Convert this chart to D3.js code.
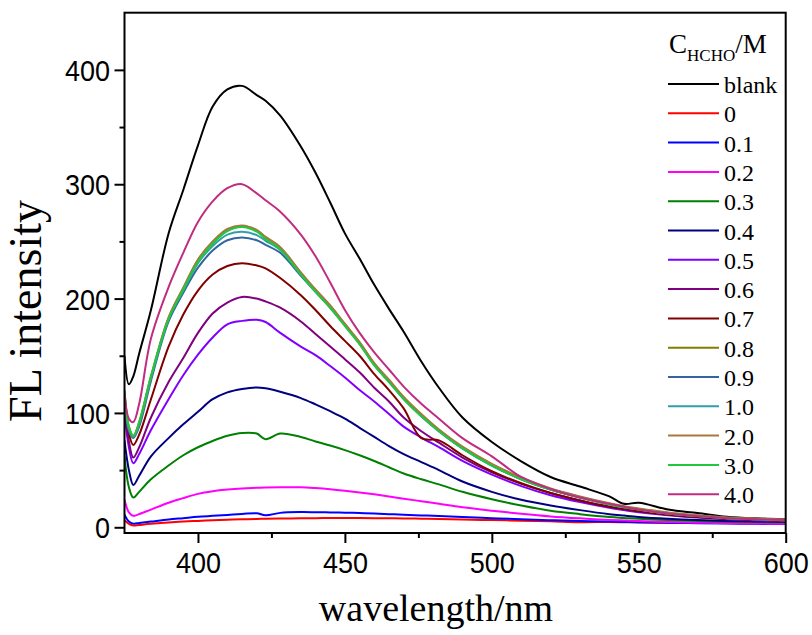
<!DOCTYPE html>
<html>
<head>
<meta charset="utf-8">
<script src="https://cdn.jsdelivr.net/npm/d3@7"></script>
<style>
  html, body { margin: 0; padding: 0; background: #fff; }
  svg { display: block; }
</style>
</head>
<body>
<svg id="chart" width="812" height="635"></svg>
<script>
// wavelength grid (nm), shared by every spectrum
const wavelengths = [375, 376.5, 378, 380, 384, 390, 395, 400, 405, 410, 415, 420, 423, 428, 435,
  440, 445, 450, 455, 460, 465, 470, 476, 482, 490, 500, 510, 520, 530, 540, 545, 550, 560, 570, 580, 590, 600]

// FL intensity, one array per HCHO concentration
const blank = [150, 125, 132, 152, 190, 257, 295, 334, 368, 383, 386, 378, 373, 360, 333,
  310, 284, 257, 235, 212, 191, 171, 145, 122, 96, 74.6, 57.7, 44, 35.6, 27, 20.5, 21.5, 15.5, 12.5, 9.3, 7.8, 7]
const c0 = [6, 3, 1.5, 2, 3, 4.2, 5, 5.6, 6.2, 6.6, 7, 7.3, 7.4, 7.6, 7.9,
  8, 8.1, 8.2, 8.1, 8, 7.9, 7.7, 7.5, 7.2, 6.8, 6.3, 5.8, 5.3, 4.5, 4.6, 4.4, 4.2, 4, 3.8, 3.7, 3.6, 3.5]
const c01 = [11, 5, 3.2, 3.8, 5, 6.8, 8, 9.2, 10, 10.8, 11.6, 12.3, 10.5, 12.6, 13.3,
  13.2, 13, 12.8, 12.4, 12, 11.5, 11, 10.4, 9.8, 9, 8, 7, 6.2, 5.5, 5, 4.7, 4.5, 4, 3.6, 3.3, 3, 2.8]
const c02 = [24, 13, 10, 11.5, 15.5, 21.5, 25.5, 29.2, 31.5, 33, 34, 34.5, 34.8, 35, 35,
  34.3, 33.3, 32, 30.5, 28.8, 27, 25, 22.8, 20.5, 17.5, 14.5, 11.8, 9.5, 7.8, 6.4, 5.9, 5.4, 4.6, 4, 3.6, 3.3, 3]
const c03 = [62, 35, 26, 31, 42, 54, 63, 70, 75.5, 80, 82.5, 82, 77, 82, 79,
  75, 71.5, 67.5, 63, 58, 52.5, 47, 42, 37.5, 31, 24.5, 19, 14.5, 11.5, 9, 8.2, 7.4, 6.3, 5.5, 5, 4.6, 4.3]
const c04 = [76, 50, 37, 45, 62, 78, 90, 101, 112, 118, 121, 122.3, 121.5, 118.5, 113,
  107.5, 101.5, 95, 87, 79, 71, 64, 57, 50, 40, 31, 24, 19, 15, 11.5, 10.2, 9, 7.4, 6.3, 5.6, 5.1, 4.8]
const c05 = [100, 70, 56, 64, 85, 112, 133, 151, 166, 177.5, 180.5, 181.5, 179.5, 170, 158,
  150.5, 141, 131, 120, 110, 99, 88, 78.5, 70, 58, 46, 36, 28, 22, 17, 15, 13.2, 10.5, 8.5, 7, 6, 5.4]
const c06 = [110, 75, 61, 70, 96, 127, 148, 170, 187, 196.5, 201.4, 200, 197.5, 192, 180,
  169, 158, 147, 135.5, 122, 110, 96, 84, 74, 61, 48, 38, 30, 23.5, 18, 16, 14, 11, 9, 7.5, 6.5, 5.8]
const c07 = [115, 82, 72, 81, 112, 158, 186, 207, 221, 228.5, 231, 229, 226.5, 218, 203,
  190, 176, 163, 150, 134, 120, 104, 78, 76, 63, 49, 38.5, 30, 23.5, 18, 16, 14, 11, 9, 7.5, 6.5, 5.8]
const c08 = [118, 87, 79, 91, 131, 183, 209, 234, 249.5, 260, 263.5, 259.5, 253.5, 244.5, 222.5,
  207.5, 193.5, 177.5, 161.5, 143, 128.5, 113.5, 98.5, 85, 70, 55, 43, 33.5, 26.5, 20.5, 18, 16, 12.5, 10.2, 8.4, 7.4, 6.6]
const c09 = [112, 84, 78, 88, 128, 180, 205, 227, 242, 251, 253.5, 251, 247, 240, 220,
  206, 192, 177, 161, 142, 127.5, 112.5, 97, 84, 69, 54, 42, 33, 26, 20, 17.5, 15.5, 12, 9.8, 8, 7, 6.2]
const c10 = [115, 86, 79, 90, 130, 182, 207, 231, 246, 256, 258.5, 255.5, 250.5, 242.5, 221,
  206.5, 192.5, 176.5, 160.5, 142, 127.5, 112.5, 97.5, 84, 69, 54, 42, 33, 26, 20, 17.5, 15.5, 12, 9.8, 8, 7, 6.2]
const c20 = [119, 88, 80, 92, 132, 183.5, 209.5, 234, 250, 261, 264, 260, 254, 245, 223,
  208, 194, 178, 162, 143.5, 129, 114, 99, 85.5, 70.5, 55.5, 43.5, 34, 27, 21, 18.5, 16.5, 13, 10.5, 8.6, 7.6, 6.8]
const c30 = [120, 88, 80, 92, 132, 182, 208, 232, 248, 259, 262.5, 258.5, 252, 243, 221,
  206, 192, 176, 160, 141.5, 127, 112, 97, 84, 69, 54, 42, 33, 26, 20, 17.5, 15.5, 12, 9.8, 8, 7, 6.2]
const c40 = [118, 95, 92, 108, 165, 210, 240, 267, 285, 296.5, 300, 292, 286, 276, 256,
  237, 214, 190, 170, 153, 138, 123, 108, 95, 78, 62, 44, 33.5, 26, 20.5, 18, 15.5, 12, 9.8, 8, 7, 6.4]

const seriesNames = ['blank', '0', '0.1', '0.2', '0.3', '0.4', '0.5', '0.6', '0.7', '0.8', '0.9', '1.0', '2.0', '3.0', '4.0']
const seriesValues = [blank, c0, c01, c02, c03, c04, c05, c06, c07, c08, c09, c10, c20, c30, c40]
const seriesColors = ['#000000', '#ff0000', '#0000ff', '#ff00ff', '#008000', '#000080', '#8000ff', '#800080',
  '#800000', '#808000', '#3366a0', '#2fa0a8', '#a8783f', '#20c840', '#c02c80']

const xTicks = [400, 450, 500, 550, 600]
const xMinor = [425, 475, 525, 575]
const yTicks = [0, 100, 200, 300, 400]
const yMinor = [50, 150, 250, 350]

const svg = d3.select('#chart')
const plotLeft = 124.5, plotRight = 785.7, plotTop = 12.7, plotBottom = 533
const serif = "'Liberation Serif', 'Times New Roman', serif"
const sans = "'Liberation Sans', Arial, sans-serif"

const x = d3.scaleLinear().domain([375, 600]).range([plotLeft, plotRight])
const y = d3.scaleLinear().domain([-5, 450]).range([plotBottom, plotTop])

// curves, clipped to the frame
svg.append('defs').append('clipPath').attr('id', 'plot-clip')
  .append('rect')
  .attr('x', plotLeft).attr('y', plotTop)
  .attr('width', plotRight - plotLeft).attr('height', plotBottom - plotTop)

const line = d3.line()
  .x((d, i) => x(wavelengths[i]))
  .y(d => y(d))
  .curve(d3.curveCatmullRom.alpha(0.5))

svg.append('g').attr('clip-path', 'url(#plot-clip)')
  .selectAll('path')
  .data(seriesValues)
  .join('path')
  .attr('d', d => line(d))
  .attr('fill', 'none')
  .attr('stroke', (d, i) => seriesColors[i])
  .attr('stroke-width', 2)
  .attr('stroke-linejoin', 'round')

// axes
const xAxis = svg.append('g').attr('transform', `translate(0,${plotBottom})`)
  .call(d3.axisBottom(x).tickValues(xTicks).tickSize(10).tickPadding(9).tickFormat(d3.format('d')))
const xAxisMinor = svg.append('g').attr('transform', `translate(0,${plotBottom})`)
  .call(d3.axisBottom(x).tickValues(xMinor).tickSize(5).tickFormat(''))
const yAxis = svg.append('g').attr('transform', `translate(${plotLeft},0)`)
  .call(d3.axisLeft(y).tickValues(yTicks).tickSize(10).tickPadding(6).tickFormat(d3.format('d')))
const yAxisMinor = svg.append('g').attr('transform', `translate(${plotLeft},0)`)
  .call(d3.axisLeft(y).tickValues(yMinor).tickSize(5).tickFormat(''))

;[xAxis, xAxisMinor, yAxis, yAxisMinor].forEach(g => {
  g.select('.domain').remove()
  g.selectAll('.tick line').attr('stroke', '#000').attr('stroke-width', 2)
})
xAxis.selectAll('.tick text')
  .attr('font-family', sans).attr('font-size', 30).attr('fill', '#000')
  .attr('transform', 'scale(0.9,1)')
yAxis.selectAll('.tick text')
  .attr('font-family', sans).attr('font-size', 30).attr('fill', '#000')
  .attr('dy', '0.35em')
  .attr('transform', 'scale(0.9,1)')

// frame
svg.append('rect')
  .attr('x', plotLeft).attr('y', plotTop)
  .attr('width', plotRight - plotLeft).attr('height', plotBottom - plotTop)
  .attr('fill', 'none').attr('stroke', '#000').attr('stroke-width', 2)

// axis titles
svg.append('text')
  .attr('x', 436).attr('y', 621)
  .attr('text-anchor', 'middle')
  .attr('font-family', serif).attr('font-size', 38)
  .text('wavelength/nm')

svg.append('text')
  .attr('transform', 'translate(41,311) rotate(-90)')
  .attr('text-anchor', 'middle')
  .attr('font-family', serif).attr('font-size', 46)
  .text('FL intensity')

// legend
const legend = svg.append('g')
const title = legend.append('text')
  .attr('x', 669).attr('y', 53)
  .attr('font-family', serif).attr('font-size', 27)
title.append('tspan').text('C')
title.append('tspan').attr('font-size', 17).attr('dy', 8).text('HCHO')
title.append('tspan').attr('dy', -8).text('/M')

const rows = legend.selectAll('g.row')
  .data(seriesNames)
  .join('g')
  .attr('class', 'row')
  .attr('transform', (d, i) => `translate(668,${84 + i * 29.3})`)
rows.append('line')
  .attr('x1', 0).attr('x2', 51)
  .attr('stroke', (d, i) => seriesColors[i])
  .attr('stroke-width', 2)
rows.append('text')
  .attr('x', 56).attr('y', 9)
  .attr('font-family', serif).attr('font-size', 24)
  .text(d => d)
</script>
</body>
</html>
